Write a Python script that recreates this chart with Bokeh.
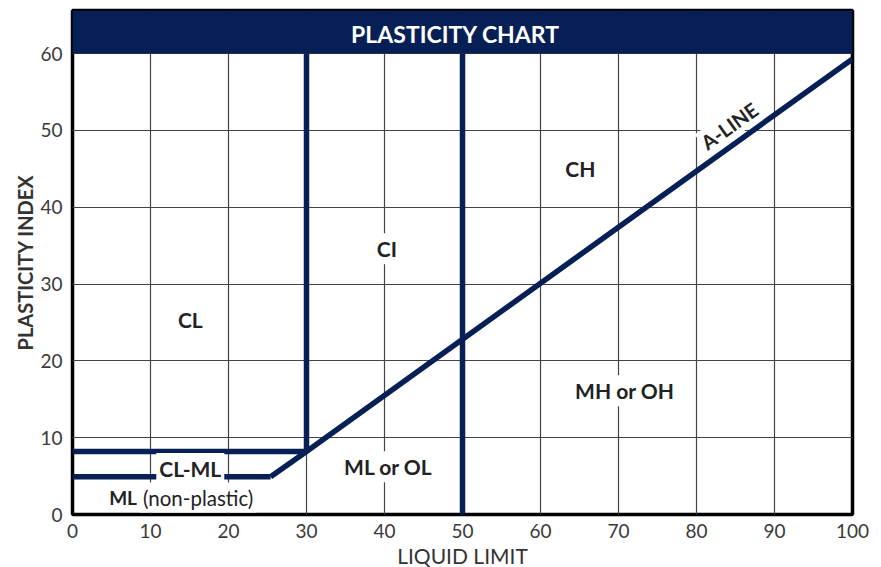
from bokeh.plotting import figure
from bokeh.models import Range1d, FixedTicker
from bokeh.core.properties import value
from bokeh.embed import file_html
from bokeh.resources import INLINE

TITLE = "PLASTICITY CHART"
X_LABEL = "LIQUID LIMIT"
Y_LABEL = "PLASTICITY INDEX"
X_TICKS = [0, 10, 20, 30, 40, 50, 60, 70, 80, 90, 100]
Y_TICKS = [0, 10, 20, 30, 40, 50, 60]

# A-line (from the end of the lower horizontal line to the right edge)
ALINE_LL = [25.4, 30, 100]
ALINE_PI = [4.9, 8.2, 59.3]
# horizontal lines of the CL-ML band
UPPER_LL = [0, 30]
UPPER_PI = [8.2, 8.2]
LOWER_LL = [0, 25.4]
LOWER_PI = [4.9, 4.9]
# vertical boundaries
V30_LL = [30, 30]
V30_PI = [8.2, 60]
V50_LL = [50, 50]
V50_PI = [0, 60]

ZONE_NAMES = ["CL", "CI", "CH", "MH or OH", "ML or OL", "CL-ML"]
ZONE_LL = [15.1, 40.3, 65.1, 70.8, 40.5, 15.1]
ZONE_PI = [25.4, 34.6, 45.1, 16.1, 6.2, 6.0]
# "ML (non-plastic)": bold code + regular note, split at this point
NP_CODE = "ML"
NP_NOTE = "(non-plastic)"
NP_LL = 8.65
NP_PI = 2.2

NAVY = "#061f55"
FONT = "Lato"

p = figure(frame_width=780, frame_height=504, output_backend="svg",
           toolbar_location=None, x_range=Range1d(0, 100), y_range=Range1d(0, 65.6),
           min_border_left=72, min_border_right=20, min_border_top=10, min_border_bottom=5,
           background_fill_color="white", border_fill_color="white")
p.outline_line_color = "black"
p.outline_line_width = 3.5

for ax, ticks, lab in ((p.xaxis[0], X_TICKS, X_LABEL), (p.yaxis[0], Y_TICKS, Y_LABEL)):
    ax.ticker = FixedTicker(ticks=ticks)
    ax.axis_line_color = None
    ax.major_tick_line_color = None
    ax.minor_tick_line_color = None
    ax.major_label_text_font = FONT
    ax.major_label_text_font_size = "19px"
    ax.major_label_text_color = "#3a3a3a"
    ax.axis_label = lab
    ax.axis_label_text_font = FONT
    ax.axis_label_text_font_style = "normal"
    ax.axis_label_text_font_size = "21px"
    ax.axis_label_text_color = "#333333"

p.xaxis.major_label_standoff = 3
p.xaxis.axis_label_standoff = 2
p.yaxis.major_label_standoff = 4
p.yaxis.axis_label_standoff = 0
p.yaxis.axis_label_text_font_style = "bold"
p.yaxis.axis_label_text_font_size = "20px"

p.xgrid.ticker = FixedTicker(ticks=X_TICKS)
p.ygrid.ticker = FixedTicker(ticks=Y_TICKS)
p.grid.grid_line_color = "#444444"
p.grid.grid_line_width = 1.2
p.grid.grid_line_alpha = 1

# title band
p.quad(left=X_TICKS[0], right=X_TICKS[-1], bottom=Y_TICKS[-1], top=65.6,
       fill_color=NAVY, line_color=None)
p.text(x=[(X_TICKS[0] + X_TICKS[-1]) / 2], y=[62.6], text=[TITLE], x_offset=-7,
       text_font=value(FONT), text_font_style="bold", text_font_size="23px",
       text_color="white", text_align="center", text_baseline="middle")

lw = 5.5
for xs, ys in ((ALINE_LL, ALINE_PI), (UPPER_LL, UPPER_PI), (LOWER_LL, LOWER_PI),
               (V30_LL, V30_PI), (V50_LL, V50_PI)):
    p.line(xs, ys, line_color=NAVY, line_width=lw, line_join="miter")

p.text(x=ZONE_LL, y=ZONE_PI, text=ZONE_NAMES, text_font=value(FONT),
       text_font_style="bold", text_font_size="21px", text_color="#222222",
       text_align="center", text_baseline="middle",
       background_fill_color="white", padding=3)

p.text(x=[NP_LL], y=[NP_PI], text=[NP_CODE], x_offset=0, text_font=value(FONT),
       text_font_style="bold", text_font_size="19px", text_color="#222222",
       text_align="right", text_baseline="middle",
       background_fill_color="white", padding=3)
p.text(x=[NP_LL], y=[NP_PI], text=[NP_NOTE], x_offset=0, text_font=value(FONT),
       text_font_style="normal", text_font_size="20.5px", text_color="#222222",
       text_align="left", text_baseline="middle",
       background_fill_color="white", padding=3)

p.text(x=[84.2], y=[50.6], text=["A-LINE"], angle=35.7, angle_units="deg",
       text_font=value(FONT), text_font_style="bold", text_font_size="20px",
       text_color="#222222", text_align="center", text_baseline="middle",
       background_fill_color="white", padding=1)

open("out.html", "w").write(file_html(p, INLINE))
